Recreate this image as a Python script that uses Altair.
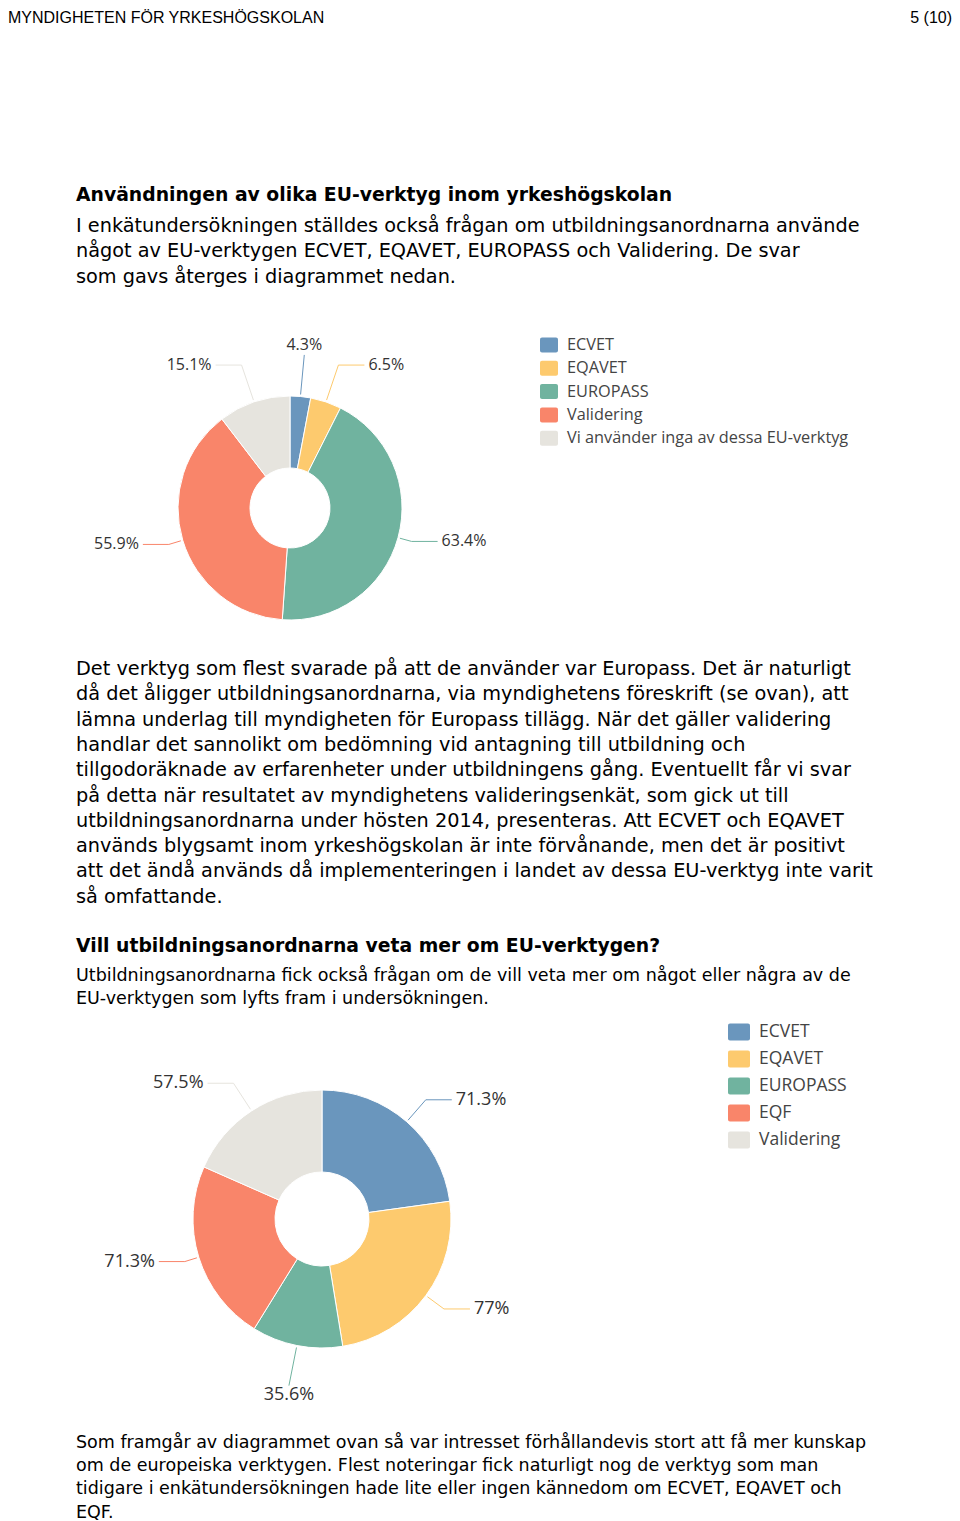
import altair as alt
import pandas as pd

# ---------------- text content ----------------
header_left = "MYNDIGHETEN FÖR YRKESHÖGSKOLAN"
header_right = "5 (10)"

heading1 = ["Användningen av olika EU-verktyg inom yrkeshögskolan"]
para1 = [
    "I enkätundersökningen ställdes också frågan om utbildningsanordnarna använde",
    "något av EU-verktygen ECVET, EQAVET, EUROPASS och Validering. De svar",
    "som gavs återges i diagrammet nedan.",
]
para2 = [
    "Det verktyg som flest svarade på att de använder var Europass. Det är naturligt",
    "då det åligger utbildningsanordnarna, via myndighetens föreskrift (se ovan), att",
    "lämna underlag till myndigheten för Europass tillägg. När det gäller validering",
    "handlar det sannolikt om bedömning vid antagning till utbildning och",
    "tillgodoräknade av erfarenheter under utbildningens gång. Eventuellt får vi svar",
    "på detta när resultatet av myndighetens valideringsenkät, som gick ut till",
    "utbildningsanordnarna under hösten 2014, presenteras. Att ECVET och EQAVET",
    "används blygsamt inom yrkeshögskolan är inte förvånande, men det är positivt",
    "att det ändå används då implementeringen i landet av dessa EU-verktyg inte varit",
    "så omfattande.",
]
heading2 = ["Vill utbildningsanordnarna veta mer om EU-verktygen?"]
para3 = [
    "Utbildningsanordnarna fick också frågan om de vill veta mer om något eller några av de",
    "EU-verktygen som lyfts fram i undersökningen.",
]
para4 = [
    "Som framgår av diagrammet ovan så var intresset förhållandevis stort att få mer kunskap",
    "om de europeiska verktygen. Flest noteringar fick naturligt nog de verktyg som man",
    "tidigare i enkätundersökningen hade lite eller ingen kännedom om ECVET, EQAVET och",
    "EQF.",
]

# ---------------- chart data ----------------
cats1 = ["ECVET", "EQAVET", "EUROPASS", "Validering", "Vi använder inga av dessa EU-verktyg"]
vals1 = [4.3, 6.5, 63.4, 55.9, 15.1]

cats2 = ["ECVET", "EQAVET", "EUROPASS", "EQF", "Validering"]
vals2 = [71.3, 77.0, 35.6, 71.3, 57.5]

# ---------------- styles ----------------
palette = ["#6a96bd", "#fdca6e", "#70b39f", "#f9856a", "#e6e4de"]
BODY_FONT = "DejaVu Sans"
HEADER_FONT = "Liberation Sans"
CHART_FONT = "Open Sans"
OFF = 8  # page margin

one = pd.DataFrame({"a": [0]})


def text_block(lines, x, y, size, lh, bold=False):
    return alt.Chart(one).mark_text(
        text=lines, align="left", baseline="alphabetic", fontSize=size,
        lineHeight=lh, font=BODY_FONT, fontWeight="bold" if bold else "normal",
        color="#000000",
    ).encode(x=alt.value(x - OFF), y=alt.value(y - OFF))


def donut(cats, vals, cx, cy, r_out, r_in, fs, l_base, l_extra, l_h):
    cx, cy = cx - OFF, cy - OFF
    df = pd.DataFrame({"cat": cats, "v": vals, "idx": list(range(len(cats)))})
    color = alt.Color("cat:N", scale=alt.Scale(domain=cats, range=palette), legend=None)
    arcs = alt.Chart(df).mark_arc(
        radius=r_out, radius2=r_in, stroke="white", strokeWidth=1
    ).encode(
        theta=alt.Theta("v:Q", stack=True),
        order=alt.Order("idx:Q"),
        color=color,
        x=alt.value(cx), y=alt.value(cy),
    )
    mid = "(2*PI*(datum.cum - datum.v/2)/datum.total)"
    base = alt.Chart(df).transform_joinaggregate(
        total="sum(v)"
    ).transform_window(
        cum="sum(v)", sort=[alt.SortField("idx")], frame=[None, 0]
    ).transform_calculate(
        s=f"sin({mid})",
        c=f"cos({mid})",
        label="datum.v + '%'",
    ).transform_calculate(
        side="datum.s > 0.3 ? 1 : (datum.s < -0.3 ? -1 : 0)",
        rb=f"{r_out} + {l_base} + {l_extra} * datum.c * datum.c",
    ).transform_calculate(
        x0=f"{cx} + ({r_out} + 2) * datum.s",
        y0=f"{cy} - ({r_out} + 2) * datum.c",
        xb=f"{cx} + datum.rb * datum.s",
        yb=f"{cy} - datum.rb * datum.c",
    ).transform_calculate(
        xe=f"datum.xb + datum.side * {l_h}",
        xt=f"datum.xb + datum.side * ({l_h} + 4)",
        yt=f"datum.side == 0 ? datum.yb - datum.c * 10 : datum.yb",
    )
    radial = base.mark_rule(strokeWidth=1).encode(
        x=alt.X("x0:Q", scale=None), y=alt.Y("y0:Q", scale=None),
        x2="xb:Q", y2="yb:Q", color=color,
    )
    horiz = base.transform_filter("datum.side != 0").mark_rule(strokeWidth=1).encode(
        x=alt.X("xb:Q", scale=None), y=alt.Y("yb:Q", scale=None),
        x2="xe:Q", y2="yb:Q", color=color,
    )
    layers = [arcs, radial, horiz]
    for cond, align in [
        ("datum.side == 1", "left"),
        ("datum.side == -1", "right"),
        ("datum.side == 0", "center"),
    ]:
        layers.append(
            base.transform_filter(cond).mark_text(
                align=align, baseline="middle", fontSize=fs, font=CHART_FONT,
                color="#333333",
            ).encode(
                x=alt.X("xt:Q", scale=None), y=alt.Y("yt:Q", scale=None),
                text="label:N",
            )
        )
    return layers


def legend(cats, x, y0, dy, w, h, fs):
    df = pd.DataFrame({"cat": cats, "idx": list(range(len(cats)))})
    color = alt.Color("cat:N", scale=alt.Scale(domain=cats, range=palette), legend=None)
    base = alt.Chart(df).transform_calculate(
        yy=f"{y0 - OFF} + datum.idx * {dy}",
        y1=f"{y0 - OFF} + datum.idx * {dy} - {h / 2}",
        y2=f"{y0 - OFF} + datum.idx * {dy} + {h / 2}",
    )
    sq = base.mark_rect(cornerRadius=2).encode(
        x=alt.value(x - OFF), x2=alt.value(x - OFF + w),
        y=alt.Y("y1:Q", scale=None), y2="y2:Q", color=color,
    )
    tx = base.mark_text(
        align="left", baseline="middle", fontSize=fs, font=CHART_FONT, color="#444444"
    ).encode(
        x=alt.value(x - OFF + w + 9), y=alt.Y("yy:Q", scale=None), text="cat:N"
    )
    return [sq, tx]


layers = []
layers.append(alt.Chart(one).mark_text(
    text=header_left, align="left", baseline="alphabetic", fontSize=16,
    font=HEADER_FONT, color="#000").encode(x=alt.value(0), y=alt.value(15)))
layers.append(alt.Chart(one).mark_text(
    text=header_right, align="right", baseline="alphabetic", fontSize=16,
    font=HEADER_FONT, color="#000").encode(x=alt.value(944), y=alt.value(15)))

layers.append(text_block(heading1, 76, 201, 18.8, 25.3, bold=True))
layers.append(text_block(para1, 76, 232, 19.3, 25.3))
layers.append(text_block(para2, 76, 675, 19.3, 25.3))
layers.append(text_block(heading2, 76, 952, 18.8, 25.3, bold=True))
layers.append(text_block(para3, 76, 981, 17.5, 23.2))
layers.append(text_block(para4, 76, 1448, 17.5, 23.2))

layers += donut(cats1, vals1, 290, 508, 112, 40, 16, 12, 30, 26)
layers += legend(cats1, 540, 345, 23.3, 18, 15, 16.3)
layers += donut(cats2, vals2, 322, 1219, 129, 47, 18, 12, 30, 26)
layers += legend(cats2, 728, 1032, 27, 22, 17, 17.5)

chart = alt.layer(*layers).resolve_scale(
    color="independent", theta="independent"
).properties(
    width=944, height=1513, padding=0, autosize="none", background="white"
).configure_view(stroke=None)

chart.save("out.html", embed_options={"renderer": "svg", "actions": False})
